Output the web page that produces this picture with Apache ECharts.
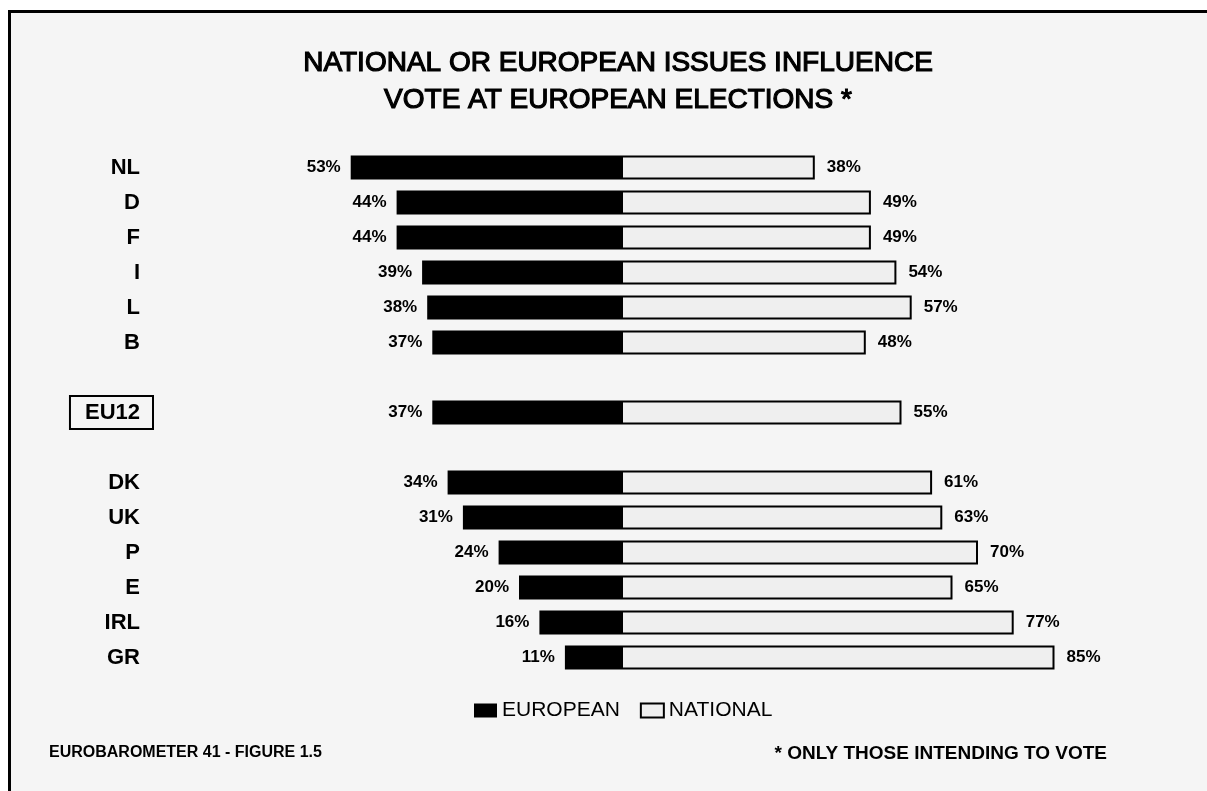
<!DOCTYPE html>
<html>
<head>
<meta charset="utf-8">
<script src="https://cdn.jsdelivr.net/npm/echarts@6/dist/echarts.min.js"></script>
<style>
  html, body { margin: 0; padding: 0; background: #fff; }
  #main { width: 1207px; height: 791px; }
</style>
</head>
<body>
<div id="main"></div>
<script>
// rows, blank strings are the spacer rows around EU12
var countries = ['NL', 'D', 'F', 'I', 'L', 'B', ' ', 'EU12', '  ', 'DK', 'UK', 'P', 'E', 'IRL', 'GR'];
var european = [53, 44, 44, 39, 38, 37, null, 37, null, 34, 31, 24, 20, 16, 11];
var national = [38, 49, 49, 54, 57, 48, null, 55, null, 61, 63, 70, 65, 77, 85];

var myChart = echarts.init(document.getElementById('main'));

var font = 'Liberation Sans, Arial, sans-serif';

var option = {
    backgroundColor: '#ffffff',
    animation: false,
    title: {
        text: 'NATIONAL OR EUROPEAN ISSUES INFLUENCE\nVOTE AT EUROPEAN ELECTIONS *',
        left: 613,
        top: 40,
        textAlign: 'center',
        textStyle: {
            fontFamily: font,
            fontSize: 28,
            fontWeight: 'normal',
            color: '#000',
            lineHeight: 37,
            textBorderColor: '#000',
            textBorderWidth: 1.2
        }
    },
    legend: {
        data: ['EUROPEAN', 'NATIONAL'],
        left: 469,
        top: 695,
        itemWidth: 23,
        itemHeight: 14,
        itemGap: 20,
        icon: 'rect',
        textStyle: { fontFamily: font, fontSize: 21, color: '#000' }
    },
    grid: {
        left: 315,
        right: 1207 - 1080,
        top: 150,
        height: 525
    },
    xAxis: {
        type: 'value',
        min: -60,
        max: 90,
        show: false
    },
    yAxis: {
        type: 'category',
        inverse: true,
        data: countries,
        axisLine: { show: false },
        axisTick: { show: false },
        axisLabel: {
            margin: 162,
            formatter: function (v) {
                if (v === 'EU12') return '{eu|' + v + '}';
                return '{n|' + v.trim() + '}';
            },
            rich: {
                n: {
                    fontFamily: font, fontSize: 22, fontWeight: 'bold', color: '#000',
                    padding: [0, 13, 0, 0]
                },
                eu: {
                    fontFamily: font, fontSize: 22, fontWeight: 'bold', color: '#000',
                    borderColor: '#000', borderWidth: 2,
                    padding: [6, 13, 5, 15]
                }
            }
        }
    },
    series: [
        {
            name: 'EUROPEAN',
            type: 'bar',
            stack: 'vote',
            barWidth: 24,
            data: european.map(function (v) { return v === null ? '-' : -v; }),
            itemStyle: { color: '#000' },
            label: {
                show: true,
                position: 'left',
                distance: 10,
                formatter: function (p) { return Math.abs(p.value) + '%'; },
                fontFamily: font, fontSize: 17, fontWeight: 'bold', color: '#000'
            }
        },
        {
            name: 'NATIONAL',
            type: 'bar',
            stack: 'vote',
            barWidth: 24,
            data: national.map(function (v) { return v === null ? '-' : v; }),
            itemStyle: { color: '#efefef', borderColor: '#000', borderWidth: 2 },
            label: {
                show: true,
                position: 'right',
                distance: 12,
                formatter: '{c}%',
                fontFamily: font, fontSize: 17, fontWeight: 'bold', color: '#000'
            }
        }
    ],
    graphic: [
        {
            type: 'rect',
            z: -10,
            shape: { x: 9.5, y: 11.5, width: 1210, height: 800 },
            style: { fill: '#f5f5f5', stroke: '#000', lineWidth: 3 }
        },
        {
            type: 'text',
            left: 49,
            top: 745,
            style: {
                text: 'EUROBAROMETER 41 - FIGURE 1.5',
                fontFamily: font, fontSize: 16, fontWeight: 'bold', fill: '#000'
            }
        },
        {
            type: 'text',
            right: 1207 - 1107,
            top: 744,
            style: {
                text: '* ONLY THOSE INTENDING TO VOTE',
                fontFamily: font, fontSize: 19, fontWeight: 'bold', fill: '#000'
            }
        }
    ]
};

myChart.setOption(option);
</script>
</body>
</html>
